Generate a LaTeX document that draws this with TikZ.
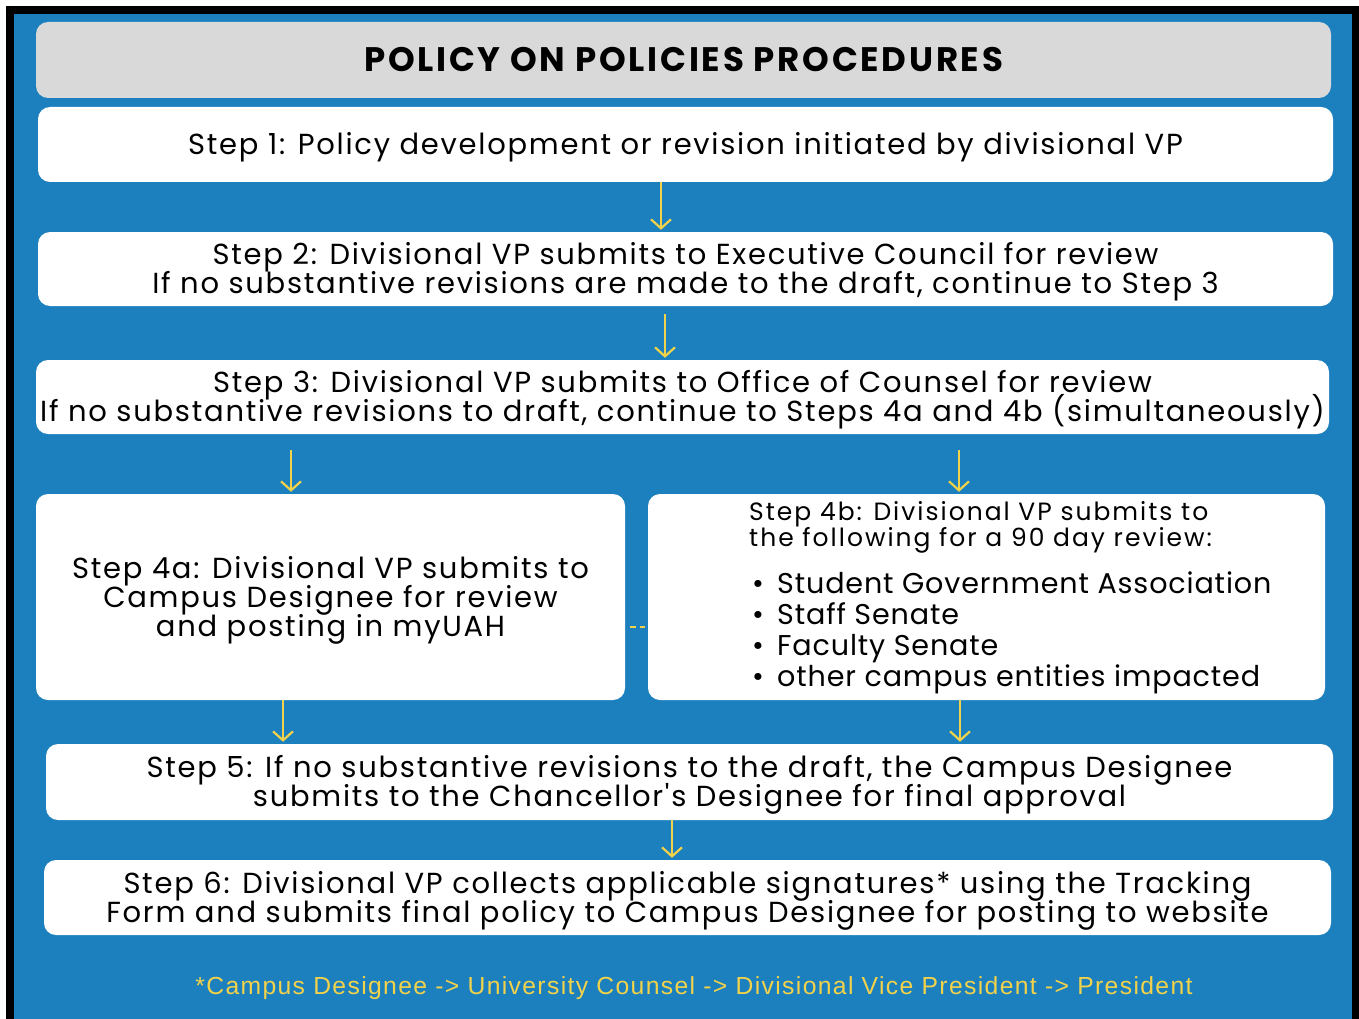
\documentclass[tikz,border=0pt]{standalone}
\usepackage{fontspec}
\setmainfont{Poppins}
\newfontfamily\stepfont[LetterSpace=6]{Poppins}
\newfontfamily\titlefont[LetterSpace=8]{Poppins}
\newfontfamily\headfont[LetterSpace=8]{Poppins}
\newfontfamily\itemfont[LetterSpace=3]{Poppins}
\newfontfamily\notefont[LetterSpace=5.5]{Liberation Sans}
\usetikzlibrary{arrows.meta}

\definecolor{pageblue}{HTML}{1B80BD}
\definecolor{titlegray}{HTML}{D9D9D9}
\definecolor{flowyellow}{HTML}{F2D24A}

% struts that keep the text of every box at the same height
\newcommand\tightlines{\lineskiplimit=-100pt\relax}
\newcommand\boxtop{\rule{0pt}{30pt}}
\newcommand\boxbottom{\rule[-10pt]{0pt}{10pt}}

\tikzset{
  stepbox/.style={fill=white, rounded corners=12pt, inner sep=0pt, align=center,
    font=\stepfont\fontsize{29}{29}\selectfont, execute at begin node=\tightlines},
  flow/.style={flowyellow, line width=2.2pt, shorten >=2pt,
    -{Straight Barb[length=9pt,width=20pt]}},
}

\begin{document}
\begin{tikzpicture}[x=1pt,y=-1pt]
  \useasboundingbox (0,0) rectangle (1359,1019);

  % Draw the frame and the blue background
  \fill[black] (6,6) rectangle (1359,1019);
  \fill[pageblue] (14,14) rectangle (1352,1019);

  % Title
  \node[stepbox, fill=titlegray, minimum width=1295, minimum height=76,
    font=\titlefont\bfseries\fontsize{34}{34}\selectfont] (title) at (683.5,60) {POLICY ON POLICIES PROCEDURES};

  % The steps
  \node[stepbox, minimum width=1295, minimum height=75] (s1) at (685.5,144.5)
    {\boxtop Step 1: Policy development or revision initiated by divisional VP\boxbottom};
  \node[stepbox, minimum width=1295, minimum height=74] (s2) at (685.5,269)
    {\boxtop Step 2: Divisional VP submits to Executive Council for review\\
     If no substantive revisions are made to the draft, continue to Step 3\boxbottom};
  \node[stepbox, minimum width=1293, minimum height=74] (s3) at (682.5,397)
    {\boxtop Step 3: Divisional VP submits to Office of Counsel for review\\
     If no substantive revisions to draft, continue to Steps 4a and 4b (simultaneously)\boxbottom};
  \node[stepbox, minimum width=589, minimum height=206] (s4a) at (330.5,597)
    {\boxtop Step 4a: Divisional VP submits to\\ Campus Designee for review\\ and posting in myUAH\boxbottom};
  \node[stepbox, minimum width=677, minimum height=206] (s4b) at (986.5,597) {};
  \node[anchor=north west, align=left, inner sep=0pt, font=\headfont\fontsize{25}{26}\selectfont] (s4bhead) at (749,501)
    {Step 4b: Divisional VP submits to\\
     the following for a 90 day review:};
  \node[anchor=north west, align=left, inner sep=0pt, font=\itemfont\fontsize{28.6}{31}\selectfont] (s4bitems) at (752,572)
    {\makebox[25pt][l]{\textbullet}Student Government Association\\
     \makebox[25pt][l]{\textbullet}Staff Senate\\
     \makebox[25pt][l]{\textbullet}Faculty Senate\\
     \makebox[25pt][l]{\textbullet}other campus entities impacted};
  \node[stepbox, minimum width=1287, minimum height=76] (s5) at (689.5,782)
    {\boxtop Step 5: If no substantive revisions to the draft, the Campus Designee\\
     submits to the Chancellor's Designee for final approval\boxbottom};
  \node[stepbox, minimum width=1287, minimum height=75] (s6) at (687.5,897.5)
    {\boxtop Step 6: Divisional VP collects applicable signatures* using the Tracking\\
     Form and submits final policy to Campus Designee for posting to website\boxbottom};

  % Footnote
  \node[font=\notefont\fontsize{24.7}{26}\selectfont, text=flowyellow] (note) at (694,988)
    {*Campus Designee -> University Counsel -> Divisional Vice President -> President};

  % Draw the arrows
  \draw[flow] (s1.south -| 661,0) -- (s2.north -| 661,0);
  \draw[flow, shorten <=8pt] (s2.south -| 665,0) -- (s3.north -| 665,0);
  \draw[flow, shorten <=16pt] (s3.south -| 291,0) -- (s4a.north -| 291,0);
  \draw[flow, shorten <=16pt] (s3.south -| 959,0) -- (s4b.north -| 959,0);
  \draw[flow] (s4a.south -| 283,0) -- (s5.north -| 283,0);
  \draw[flow] (s4b.south -| 960,0) -- (s5.north -| 960,0);
  \draw[flow] (s5.south -| 672,0) -- (s6.north -| 672,0);
  \draw[flowyellow, line width=2pt, dash pattern=on 6pt off 4pt, shorten <=5pt, shorten >=3pt]
    ([yshift=-30pt]s4a.east) -- ([yshift=-30pt]s4a.east -| s4b.west);
\end{tikzpicture}
\end{document}
